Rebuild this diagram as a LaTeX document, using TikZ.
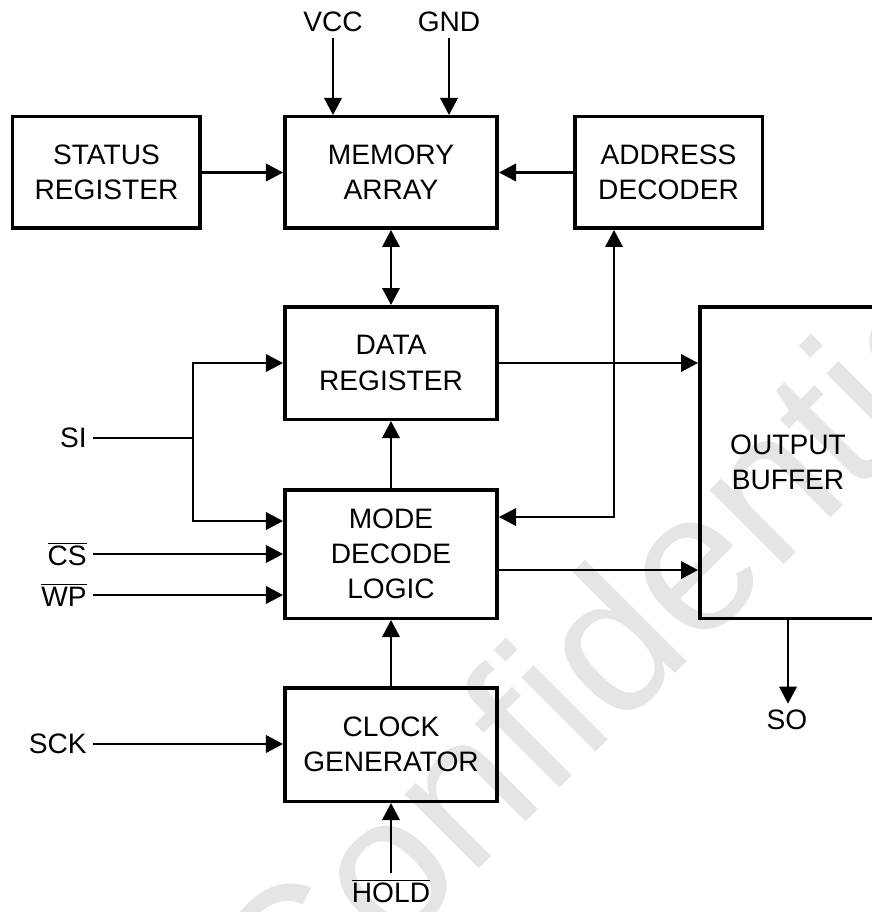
\documentclass[tikz,border=0pt]{standalone}
\usepackage{fontspec}
\setmainfont{Liberation Sans}
\usetikzlibrary{arrows.meta, positioning, calc}

\begin{document}
\begin{tikzpicture}[
  every node/.style={font=\fontsize{16}{20}\selectfont},
  blk/.style={draw, line width=2pt, minimum width=4.25cm, minimum height=2.23cm,
              align=center, inner sep=0pt},
  sig/.style={inner sep=0.12cm},
  wire/.style={line width=1.15pt},
  arr/.style={-{Triangle[length=0.34cm, width=0.35cm]}, line width=1.15pt},
  dbl/.style={{Triangle[length=0.34cm, width=0.35cm]}-{Triangle[length=0.34cm, width=0.35cm]}, line width=1.15pt}
]
\clip (0,0) rectangle (17.44,18.24);

% watermark
\node[rotate=45, text=black!10, font=\fontsize{113}{113}\selectfont] (wmark) at (12.22,5.50) {Confidential};

\node[blk] (mem) at (7.82,14.79) {MEMORY\\ARRAY};
\node[blk, minimum width=3.75cm, left=1.62cm of mem]  (stat) {STATUS\\REGISTER};
\node[blk, minimum width=3.75cm, right=1.48cm of mem] (addr) {ADDRESS\\DECODER};
\node[blk, minimum height=2.25cm, below=1.5cm of mem]  (data) {DATA\\REGISTER};
\node[blk, minimum height=2.57cm, below=1.34cm of data] (mode) {MODE\\DECODE\\LOGIC};
\node[blk, minimum height=2.27cm, below=1.32cm of mode] (clk)  {CLOCK\\GENERATOR};
\node[blk, minimum width=3.53cm, minimum height=6.23cm, anchor=north west]
     (out) at ($(data.north east)+(3.98,0)$) {OUTPUT\\BUFFER};

% pins
\node[sig] (vcc) at (6.66,17.80) {VCC};
\node[sig] (gnd) at (8.98,17.80) {GND};
\node[sig, anchor=east] (si)  at (1.86,9.48) {SI};
\node[sig, anchor=east] (cs)  at (1.86,7.16) {\ensuremath{\overline{\mbox{CS}}}};
\node[sig, anchor=east] (wp)  at (1.86,6.34) {\ensuremath{\overline{\mbox{WP}}}};
\node[sig, anchor=east] (sck) at (1.86,3.36) {SCK};
\node[sig] (hold) at (7.82,0.41) {\ensuremath{\overline{\mbox{HOLD}}}};
\node[sig] (so) at (15.74,3.84) {SO};

\coordinate (jn) at ($(si.east)+(2.0,0)$);
\coordinate (m2a) at ([yshift=0.74cm]mode.east);
\coordinate (m2o) at ([yshift=-0.32cm]mode.east);
\coordinate (abus) at ([xshift=-1.09cm]addr.south);

\draw[arr] (vcc) -- (vcc |- mem.north);
\draw[arr] (gnd) -- (gnd |- mem.north);
\draw[arr] (stat) -- (mem);
\draw[arr] (addr) -- (mem);
\draw[dbl] (mem) -- (data);
\draw[arr] (mode) -- (data);
\draw[arr] (clk) -- (mode);
\draw[arr] (hold) -- (clk);

\draw[wire] (si) -- (jn);
\draw[arr] (jn) |- (data.west);
\draw[arr] (jn) |- ([yshift=0.66cm]mode.west);
\draw[arr] (cs) -- (cs -| mode.west);
\draw[arr] (wp) -- (wp -| mode.west);
\draw[arr] (sck) -- (sck -| clk.west);

\draw[arr] (data) -- (data -| out.west);
\draw[arr] (m2o) -- (m2o -| out.west);
\draw[dbl] (m2a) -| (abus);
\draw[arr] (out.south) -- (out.south |- so.north);

\end{tikzpicture}
\end{document}
